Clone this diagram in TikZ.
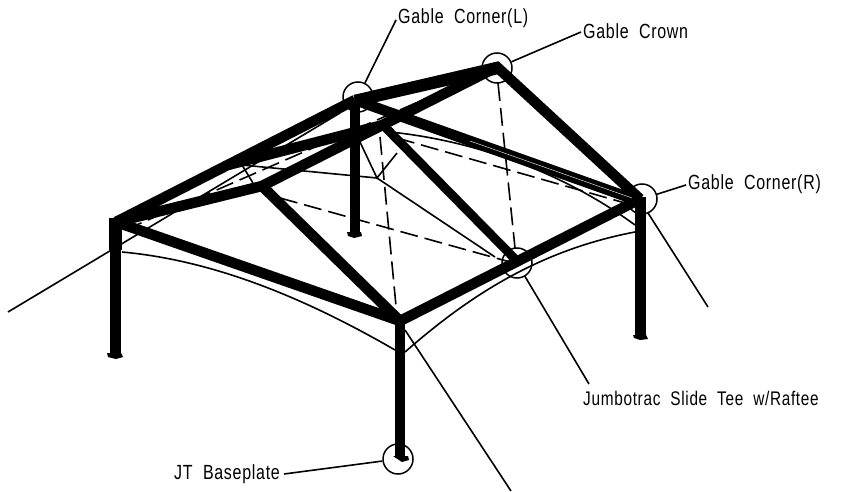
\documentclass[tikz,border=0pt]{standalone}
\usepackage{fontspec}
\setmainfont[FakeStretch=0.78,WordSpace=2.0,LetterSpace=3.5]{Liberation Sans}
\begin{document}
\begin{tikzpicture}[x=1pt,y=-1pt,
  bar/.style={line width=10.5pt,line join=miter,line cap=butt},
  post/.style={line width=11pt,line cap=butt},
  thin line/.style={line width=1.6pt},
  dash line/.style={line width=1.6pt,dash pattern=on 18pt off 7pt},
  ring/.style={circle,draw,line width=1.5pt,minimum size=30pt,inner sep=0pt},
  label text/.style={anchor=base west,inner sep=0pt,font=\fontsize{20.5}{22}\selectfont},
  plate/.style={fill=black}]
\useasboundingbox (0,0) rectangle (848,492);
% key points
\coordinate (A) at (116,222);
\coordinate (B) at (355,100);
\coordinate (C) at (497,67);
\coordinate (D) at (640,199);
\coordinate (E) at (400,321);
\coordinate (F) at (262,186);
\coordinate (G) at (383,125);
\coordinate (H) at (517,261);
\coordinate (I) at (228,165);
\coordinate (J) at (377,178);
\coordinate (K) at (242,165);
% rings
\node[ring] (rL) at (358,97) {};
\node[ring] (rC) at (497,68) {};
\node[ring] (rR) at (642,199) {};
\node[ring] (rT) at (517,263) {};
\node[ring] (rB) at (398,459) {};
% labels
\node[label text] (tL) at (398,24) {Gable Corner(L)};
\node[label text] (tC) at (583,39) {Gable Crown};
\node[label text] (tR) at (688,189) {Gable Corner(R)};
\node[label text,font=\fontsize{19.7}{22}\selectfont] (tT) at (583,405) {Jumbotrac Slide Tee w/Raftee};
\node[label text] (tB) at (174,479) {JT Baseplate};
\coordinate (lL) at (396,20);
\coordinate (lC) at (581,32);
\coordinate (lR) at (686,185);
\coordinate (lT) at (589,384);
\coordinate (lB) at (284,474);
\coordinate (free1) at (8,312);
\coordinate (free1b) at (340,113);
\coordinate (free2a) at (648,213);
\coordinate (free2) at (708,307);
\coordinate (free3a) at (405,330);
\coordinate (free3) at (511,491);
% leaders
\draw[thin line] (rL) -- (lL);
\draw[thin line] (rC) -- (lC);
\draw[thin line] (rR) -- (lR);
\draw[thin line] (rT) -- (lT);
\draw[thin line] (rB) -- (lB);
\draw[thin line] (free1) -- (free1b);
\draw[thin line] (free2a) -- (free2);
\draw[thin line] (free3a) -- (free3);
% thin cable lines
\draw[thin line] (122,252) .. controls (210,260) and (300,295) .. (395,350);
\draw[thin line] (405,352) .. controls (470,295) and (540,250) .. (635,232);
\draw[thin line] (390,132) .. controls (470,140) and (560,170) .. (635,225);
\draw[thin line] (253,183) -- (K) -- (J) -- (495,257);
\draw[thin line] (360,142) -- (J) -- (397,153);
% dashed lines
\draw[dash line] (125,230) -- (480,75);
\draw[dash line] (280,198) -- (510,262);
\draw[dash line] (397,138) -- (625,203);
\draw[dash line] (498,83) -- (515,248);
\draw[dash line] (380,137) -- (396,306);
% structure
\draw[post] (115,218) -- (115,353);
\draw[post,line width=13pt] (115,218) -- (115,250);
\draw[post] (640,197) -- (640,336);
\draw[post,line width=10pt] (400,321) -- (400,458);
\draw[post,line width=10pt] (355,100) -- (355,232);
\draw[bar] (A) -- (B);
\draw[bar] (B) -- (C) -- (D);
\draw[bar,line width=11.7pt] ([yshift=-1pt]B) -- ([yshift=-1.5pt]C);
\draw[bar] (B) -- (636,200);
\draw[bar] (A) -- (F);
\draw[bar] (F) -- (C);
\draw[bar] (I) -- (G);
\draw[bar,line width=9pt] (G) -- (H);
\draw[bar] (F) -- (E);
\draw[bar] (A) -- (E);
\draw[bar] (E) -- (D);
\draw[line width=.4pt,white] (470,141) -- (632,198);
% base plates
\fill[plate] (107,353) -- (121,353) -- (123,357) -- (116,359) -- (108,357) -- cycle;
\fill[plate] (633,335) -- (646,335) -- (648,339) -- (640,340) -- (634,338) -- cycle;
\fill[plate] (393,456) -- (408,456) -- (409,460) -- (402,462) -- cycle;
\fill[plate] (347,232) -- (361,232) -- (362,236) -- (354,238) -- (348,236) -- cycle;
\fill[plate] (260,187) -- (272,188) -- (273,193) -- (264,194) -- cycle;
\end{tikzpicture}
\end{document}
